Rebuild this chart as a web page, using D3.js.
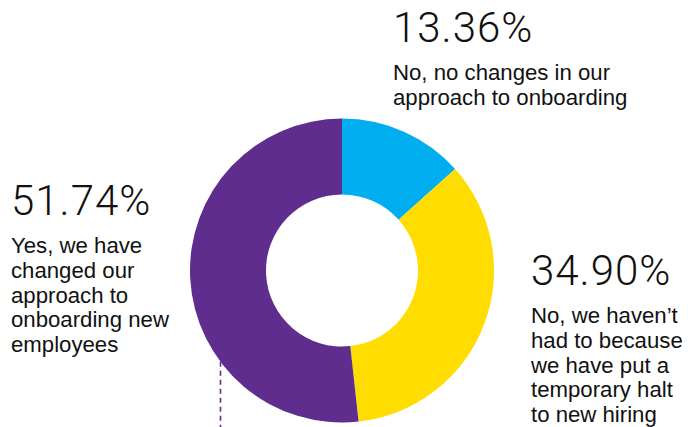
<!DOCTYPE html>
<html>
<head>
<meta charset="utf-8">
<script src="https://cdn.jsdelivr.net/npm/d3@7"></script>
<style>
  html, body { margin: 0; padding: 0; background: #fff; }
  svg { display: block; }
  .pct { font-family: Roboto, "Liberation Sans", Arial, sans-serif; font-weight: 300; font-size: 42px; letter-spacing: 1px; fill: #111; }
  .desc { font-family: "Liberation Sans", Arial, Helvetica, sans-serif; font-size: 22.2px; fill: #111; }
</style>
</head>
<body>
<svg id="chart" width="699" height="427"></svg>
<script>
// Survey answers, in clockwise order from 12 o'clock
const categories = ["no-change", "halt-hiring", "changed"];
const values = [13.36, 34.90, 51.74];
const colors = ["#00AEEF", "#FFDD00", "#5F2D8E"];
const valueLabels = ["13.36%", "34.90%", "51.74%"];
const descriptionLines = [
  ["No, no changes in our", "approach to onboarding"],
  ["No, we haven\u2019t", "had to because", "we have put a", "temporary halt", "to new hiring"],
  ["Yes, we have", "changed our", "approach to", "onboarding new", "employees"]
];

const W = 699, H = 427;
const cx = 342, cy = 270.5, outerR = 152, innerR = 76;

const svg = d3.select("#chart");

const pie = d3.pie().sort(null).value(d => d.value);
const arc = d3.arc().innerRadius(innerR).outerRadius(outerR);

const data = categories.map((c, i) => ({ key: c, value: values[i], color: colors[i] }));

const g = svg.append("g").attr("transform", `translate(${cx},${cy})`);
g.selectAll("path")
  .data(pie(data))
  .join("path")
  .attr("d", arc)
  .attr("fill", d => d.data.color);

// dashed leader dropping from the purple slice's outer edge
const leaderDx = -121.5;
const leaderY0 = Math.sqrt(outerR * outerR - leaderDx * leaderDx);
g.append("line")
  .attr("x1", leaderDx).attr("x2", leaderDx)
  .attr("y1", leaderY0).attr("y2", H - cy + 2)
  .attr("stroke", "#5F2D8E")
  .attr("stroke-width", 1.6)
  .attr("stroke-dasharray", "5,4");

// label blocks: value on top, description below
const labelPos = [
  { x: 393, y: 42 },
  { x: 531, y: 285 },
  { x: 11, y: 215 }
];
const lineH = 24.8;
const firstGap = 38;

labelPos.forEach((p, i) => {
  const block = svg.append("g").attr("transform", `translate(${p.x},${p.y})`);
  block.append("text").attr("class", "pct").attr("x", 0).attr("y", 0).text(valueLabels[i]);
  block.append("text").attr("class", "desc")
    .selectAll("tspan")
    .data(descriptionLines[i])
    .join("tspan")
    .attr("x", 0)
    .attr("y", (d, j) => firstGap + j * lineH)
    .text(d => d);
});
</script>
</body>
</html>
